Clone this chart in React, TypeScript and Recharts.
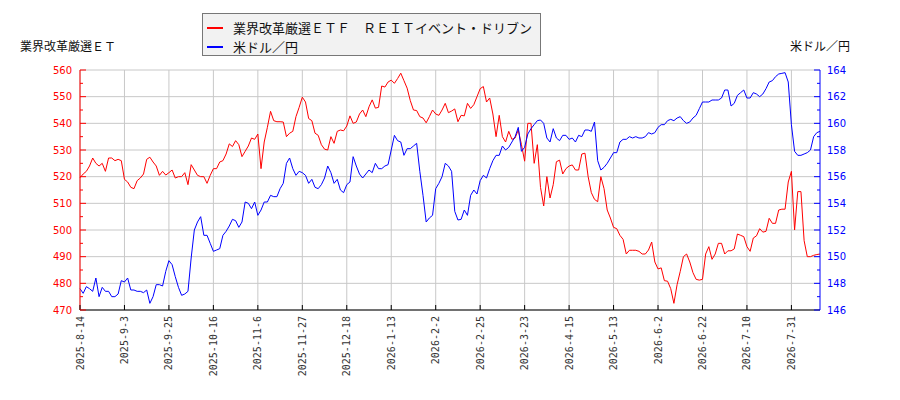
import { LineChart, Line, XAxis, YAxis, CartesianGrid, Legend } from "recharts"

const tickDates = [
  "2025-8-14", "2025-9-3", "2025-9-25", "2025-10-16", "2025-11-6", "2025-11-27",
  "2025-12-18", "2026-1-13", "2026-2-2", "2026-2-25", "2026-3-23", "2026-4-15",
  "2026-5-13", "2026-6-2", "2026-6-22", "2026-7-10", "2026-7-31",
]
const tickIndexes = [0, 14, 28, 42, 56, 70, 84, 98, 112, 126, 140, 154, 168, 182, 196, 210, 224]

const etfName = "業界改革厳選ＥＴＦ　ＲＥＩＴイベント・ドリブン"
const usdName = "米ドル／円"

const etfPrices = [
  519.6, 521, 522, 524, 527, 525, 524, 525, 522, 527,
  527, 526, 526.5, 526, 519, 518, 516, 515.5, 518.5, 519.5,
  521, 526.5, 527.3, 525.5, 524, 520.5, 522, 520.6, 521.5, 522.5,
  519.5, 520, 520, 521.5, 517, 524.5, 522.5, 520.5, 520, 520,
  517.5, 520.5, 523, 523, 525.5, 526, 528.5, 532.3, 531.3, 533.5,
  532, 527.5, 529.5, 531.5, 534.5, 534, 536, 523, 533, 538.5,
  544.5, 541, 540.6, 540.6, 540.5, 535, 536.3, 537, 542.5, 546,
  549.8, 548, 541.8, 541, 536.3, 535.5, 532, 530.3, 530, 535,
  532.5, 537, 537.5, 537.2, 539, 542.8, 540, 540.5, 543.5, 545,
  542.5, 546.2, 548.8, 545.7, 546, 554, 553.6, 555.5, 556.2, 555,
  556.8, 558.8, 556, 553.2, 548.5, 545, 544.8, 542.5, 542, 540.2,
  542.5, 545, 543.5, 543, 545, 547.5, 544, 544.6, 545.4, 540.6,
  543, 542.8, 547.5, 545.6, 547, 550, 553, 553.8, 548, 549.5,
  543.5, 535, 543, 535, 533, 537, 534, 534.5, 537.5, 532,
  525.8, 540, 540, 525, 532, 516, 509, 520, 512, 517,
  525.6, 526.2, 521, 523, 524, 524.4, 522.5, 522.5, 528.5, 528.8,
  520, 514, 511.5, 510.6, 520, 515.5, 507.5, 504.5, 501, 500.5,
  498, 496.5, 491, 492.4, 492.4, 492.4, 492, 491, 491, 492.5,
  495.5, 488, 485.4, 485.8, 481, 480.8, 478, 472.5, 479.5, 484.5,
  490, 491, 488, 484, 481.5, 481.2, 481.5, 491, 493.75, 489,
  491, 495, 495, 491, 492.2, 492.2, 492.9, 498.5, 498, 497.5,
  493.75, 492, 497, 497.8, 500.5, 499.2, 499.5, 504.4, 502.5, 502.5,
  507.5, 507.8, 507.8, 518, 522, 500, 514.4, 514.4, 496, 490,
  490, 490.5, 490.8, 491,
]

const usdJpy = [
  147.6, 147.25, 147.75, 147.6, 147.4, 148.4, 147.0, 147.7, 147.4, 147.4,
  147.0, 147.0, 147.2, 148.2, 148.1, 148.4, 147.5, 147.5, 147.4, 147.4,
  147.3, 147.5, 146.5, 147.0, 147.9, 147.9, 147.8, 148.9, 149.7, 149.4,
  148.5, 147.7, 147.1, 147.2, 147.4, 149.9, 152.0, 152.6, 153.0, 151.6,
  151.6, 151.0, 150.4, 150.5, 150.6, 151.6, 151.9, 152.3, 152.8, 152.7,
  152.2, 152.6, 154.1, 154.0, 153.6, 154.1, 153.1, 153.5, 154.1, 154.1,
  154.6, 154.5, 154.5, 155.1, 155.5, 157.0, 157.4, 156.6, 156.1, 156.4,
  156.3, 156.1, 155.5, 155.8, 155.2, 155.1, 155.4, 155.9, 156.8, 156.3,
  155.5, 155.8, 155.0, 154.8, 155.4, 155.6, 157.5, 156.8, 156.2, 155.9,
  156.2, 156.5, 156.3, 157.0, 156.6, 156.6, 156.8, 156.9, 158.0, 159.1,
  158.7, 158.6, 157.6, 158.1, 158.1, 158.3, 158.5, 156.4, 154.6, 152.6,
  152.9, 153.1, 155.1, 155.5, 156.0, 157.0, 156.8, 156.4, 153.4, 152.75,
  152.8, 153.5, 153.1, 154.6, 155.0, 154.7, 155.7, 156.1, 155.9, 156.6,
  157.2, 157.6, 157.6, 158.3, 158.0, 158.2, 158.6, 159.0, 159.7, 157.9,
  158.2, 159.2, 159.6, 159.9, 160.2, 160.25, 160.0, 158.9, 158.6, 159.6,
  158.9, 158.7, 159.1, 159.1, 158.8, 158.9, 158.6, 159.1, 159.0, 159.5,
  159.5, 159.4, 160.1, 157.2, 156.5, 156.7, 157.0, 157.4, 157.8, 157.8,
  158.6, 158.8, 158.8, 159.0, 158.9, 159.0, 158.9, 158.9, 159.0, 159.3,
  159.2, 159.3, 159.7, 159.9, 159.9, 160.2, 160.3, 160.2, 160.4, 160.5,
  160.2, 160.0, 160.1, 160.4, 160.6, 161.1, 161.6, 161.6, 161.6, 161.75,
  161.75, 161.75, 161.9, 162.5, 162.5, 161.3, 161.5, 162.1, 162.3, 162.5,
  161.9, 161.9, 162.3, 162.2, 162.0, 162.2, 162.6, 163.1, 163.2, 163.5,
  163.7, 163.75, 163.8, 163.1, 159.9, 157.9, 157.6, 157.6, 157.7, 157.8,
  158.0, 159.0, 159.3, 159.4,
]

const leftTicks = [470, 475, 480, 485, 490, 495, 500, 505, 510, 515, 520, 525, 530, 535, 540, 545, 550, 555, 560]
const leftMajor = [470, 480, 490, 500, 510, 520, 530, 540, 550, 560]
const rightTicks = [146, 147, 148, 149, 150, 151, 152, 153, 154, 155, 156, 157, 158, 159, 160, 161, 162, 163, 164]

const data = etfPrices.map((v, i) => ({ i, etf: v, usd: usdJpy[i] }))

const numFont = "'DejaVu Sans', sans-serif"
const jpFont = "'Noto Sans CJK JP', sans-serif"

// ticks are drawn by hand so they point into the plot, with short minor marks
function LeftTick(props: any) {
  const { x, y, payload } = props
  const major = payload.value % 10 === 0
  return (
    <g>
      <line x1={x + 8} x2={x + 8 + (major ? 6 : 3)} y1={y} y2={y} stroke="#ff0000" />
      {major && (
        <text x={x} y={y} dy={3.5} textAnchor="end" fill="#ff0000" fontSize={10} fontFamily={numFont}>
          {payload.value}
        </text>
      )}
    </g>
  )
}

function RightTick(props: any) {
  const { x, y, payload } = props
  const major = payload.value % 2 === 0
  return (
    <g>
      <line x1={x - 7} x2={x - 7 - (major ? 6 : 3)} y1={y} y2={y} stroke="#0000ff" />
      {major && (
        <text x={x} y={y} dy={3.5} textAnchor="start" fill="#0000ff" fontSize={10} fontFamily={numFont}>
          {payload.value}
        </text>
      )}
    </g>
  )
}

function DateTick(props: any) {
  const { x, y, payload, index } = props
  return (
    <g>
      <line x1={x} x2={x} y1={y - 6} y2={y - 11} stroke="#000" />
      <text
        transform={`translate(${x},${y}) rotate(-90)`}
        dy="0.35em"
        textAnchor="end"
        fill="#333"
        fontSize={10}
        fontFamily="'DejaVu Sans Mono', monospace"
      >
        {tickDates[index] ?? payload.value}
      </text>
    </g>
  )
}

function LegendBox(props: any) {
  const items = props.payload || []
  return (
    <div
      style={{
        boxSizing: "border-box",
        width: 339,
        height: 43,
        background: "#f2f2f2",
        border: "1px solid #777",
        padding: "4px 0 0 4px",
        fontFamily: jpFont,
        fontSize: 13,
        color: "#111",
      }}
    >
      {items.map((it: any) => (
        <div key={it.value} style={{ display: "flex", alignItems: "center", height: 19 }}>
          <span style={{ display: "inline-block", width: 16, height: 2, background: it.color, marginRight: 10 }} />
          <span style={{ whiteSpace: "nowrap" }}>{it.value}</span>
        </div>
      ))}
    </div>
  )
}

export default function App() {
  return (
    <div style={{ position: "absolute", left: 0, top: 0, width: 900, height: 400, background: "#fff" }}>
      <div style={{ position: "absolute", left: 20, top: 38, fontFamily: jpFont, fontSize: 12, lineHeight: "16px", color: "#111" }}>
        業界改革厳選ＥＴ
      </div>
      <div style={{ position: "absolute", left: 790, top: 38, fontFamily: jpFont, fontSize: 12, lineHeight: "16px", color: "#111" }}>
        米ドル／円
      </div>
      <LineChart width={900} height={400} data={data} margin={{ top: 70, right: 0, bottom: 0, left: 0 }}>
        <CartesianGrid
          yAxisId="left"
          stroke="#c8c8c8"
          horizontalValues={leftMajor}
          verticalValues={tickIndexes}
        />
        <XAxis
          dataKey="i"
          type="number"
          domain={[0, etfPrices.length - 1]}
          ticks={tickIndexes}
          interval={0}
          height={90}
          tickSize={0}
          tickMargin={6}
          tickLine={false}
          axisLine={{ stroke: "#000" }}
          tick={<DateTick />}
        />
        <YAxis
          yAxisId="left"
          orientation="left"
          domain={[470, 560]}
          ticks={leftTicks}
          interval={0}
          width={80}
          tickSize={0}
          tickMargin={8}
          tickLine={false}
          axisLine={{ stroke: "#ff0000" }}
          tick={<LeftTick />}
        />
        <YAxis
          yAxisId="right"
          orientation="right"
          domain={[146, 164]}
          ticks={rightTicks}
          interval={0}
          width={80}
          tickSize={0}
          tickMargin={7}
          tickLine={false}
          axisLine={{ stroke: "#0000ff" }}
          tick={<RightTick />}
        />
        <Legend
          layout="vertical"
          align="center"
          verticalAlign="middle"
          wrapperStyle={{ left: 202, top: 13, width: 339, height: 43 }}
          content={<LegendBox />}
        />
        <Line
          yAxisId="left"
          dataKey="etf"
          name={etfName}
          stroke="#ff0000"
          strokeWidth={1}
          dot={false}
          type="linear"
          isAnimationActive={false}
        />
        <Line
          yAxisId="right"
          dataKey="usd"
          name={usdName}
          stroke="#0000ff"
          strokeWidth={1}
          dot={false}
          type="linear"
          isAnimationActive={false}
        />
      </LineChart>
    </div>
  )
}
